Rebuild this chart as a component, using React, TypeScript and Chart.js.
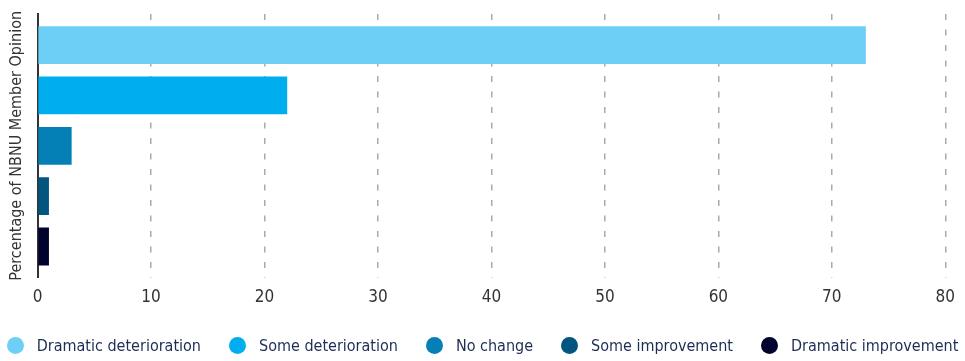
import React, { useEffect, useRef } from "react";
import { Chart, registerables } from "chart.js";

Chart.register(...registerables);

const categories = [""];
const seriesNames = [
  "Dramatic deterioration",
  "Some deterioration",
  "No change",
  "Some improvement",
  "Dramatic improvement",
];
const seriesValues = [73, 22, 3, 1, 1];
const seriesColors = ["#6dcff6", "#00aeef", "#0580b6", "#02557f", "#02022f"];
const xTicks = [0, 10, 20, 30, 40, 50, 60, 70, 80];
const yTitle = "Percentage of NBNU Member Opinion";

const FONT = "'DejaVu Sans Condensed', 'Liberation Sans', sans-serif";

export default function App() {
  const ref = useRef<HTMLCanvasElement | null>(null);

  useEffect(() => {
    document.body.style.margin = "0";
    const canvas = ref.current;
    if (!canvas) return;
    const chart = new Chart(canvas, {
      type: "bar",
      data: {
        labels: categories,
        datasets: seriesNames.map((name, i) => ({
          label: name,
          data: [seriesValues[i]],
          backgroundColor: seriesColors[i],
          borderWidth: 0,
          categoryPercentage: 0.955,
          barPercentage: 0.75,
        })),
      },
      options: {
        indexAxis: "y",
        animation: false,
        responsive: false,
        maintainAspectRatio: false,
        layout: { padding: { top: 14, right: 13, left: 0, bottom: 43 } },
        font: { family: FONT },
        plugins: {
          tooltip: { enabled: false },
          legend: { display: false },
        },
        scales: {
          x: {
            min: 0,
            max: 80,
            afterBuildTicks: (axis: any) => {
              axis.ticks = xTicks.map((v) => ({ value: v }));
            },
            grid: {
              color: "#aaaaaa",
              lineWidth: 1.5,
              drawTicks: false,
            },
            border: { display: false, dash: [6, 9.5] },
            ticks: {
              padding: 10,
              color: "#333333",
              font: { family: FONT, size: 17 },
            },
          },
          y: {
            grid: { display: false, drawTicks: false },
            border: { display: true, color: "#333333", width: 2 },
            ticks: { display: false },
            title: {
              display: true,
              text: yTitle,
              color: "#333333",
              font: { family: FONT, size: 16 },
              padding: { top: 7, bottom: 11.4 },
            },
          },
        },
      },
    });
    return () => chart.destroy();
  }, []);

  return (
    <div style={{ position: "fixed", left: 0, top: 0, width: 965, height: 361 }}>
      <canvas ref={ref} width={965} height={361} style={{ width: 965, height: 361 }} />
      <div
        style={{
          position: "absolute",
          left: 0,
          top: 334,
          width: 965,
          height: 22,
          display: "flex",
          justifyContent: "center",
          alignItems: "center",
          gap: 28,
          fontFamily: FONT,
          fontSize: 16,
          color: "#1f2d55",
          whiteSpace: "nowrap",
        }}
      >
        {seriesNames.map((name, i) => (
          <div key={name} style={{ display: "flex", alignItems: "center" }}>
            <span
              style={{
                display: "inline-block",
                width: 17,
                height: 17,
                borderRadius: "50%",
                background: seriesColors[i],
                marginRight: 13,
              }}
            />
            <span>{name}</span>
          </div>
        ))}
      </div>
    </div>
  );
}
